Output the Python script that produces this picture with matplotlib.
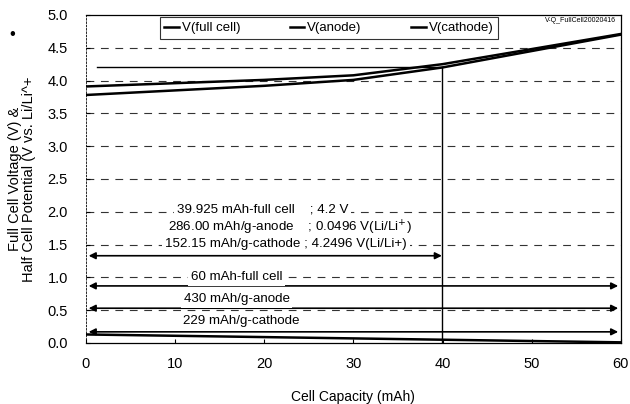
import matplotlib
matplotlib.use("Agg")
import matplotlib.pyplot as plt
import numpy as np

plt.rcParams['font.family'] = ['Liberation Sans', 'DejaVu Sans']

# Cell capacity (mAh) and potentials
capacity = [0, 10, 20, 30, 40, 50, 60]
v_full = [3.78, 3.85, 3.92, 4.01, 4.20, 4.45, 4.70]
v_anode = [0.13, 0.11, 0.09, 0.07, 0.05, 0.03, 0.01]
v_cathode = [3.91, 3.96, 4.01, 4.08, 4.25, 4.48, 4.71]

cutoff_capacity = 39.925
cutoff_voltage = 4.2

cutoff_lines = ["39.925 mAh-full cell    ; 4.2 V",
                "286.00 mAh/g-anode    ; 0.0496 V(Li/Li$^{+}$)",
                "152.15 mAh/g-cathode ; 4.2496 V(Li/Li+)"]
span_labels = ["60 mAh-full cell", "430 mAh/g-anode", "229 mAh/g-cathode"]
span_heights = [0.87, 0.53, 0.17]
span_label_heights = [1.0, 0.67, 0.33]

fig = plt.figure(figsize=(6.3, 4.04), dpi=100)
ax = fig.add_axes([0.1365, 0.151, 0.849, 0.812])

ax.set_xlim(0, 60)
ax.set_ylim(0, 5.0)
ax.set_xticks(np.arange(0, 61, 10))
ax.set_yticks(np.arange(0, 5.01, 0.5))
ax.set_yticklabels([f"{v:.1f}" for v in np.arange(0, 5.01, 0.5)])
ax.tick_params(labelsize=10.5, length=3, direction='in')
ax.tick_params(axis='y', pad=13)
ax.tick_params(axis='x', pad=10)

for y in np.arange(0.5, 4.6, 0.5):
    ax.axhline(y, color='#333333', lw=0.8, ls=(0, (7, 6)), zorder=1)

ax.spines['left'].set_linestyle((0, (2, 2)))
ax.spines['left'].set_linewidth(0.6)
for s in ['top', 'right', 'bottom']:
    ax.spines[s].set_linewidth(0.9)

l1, = ax.plot(capacity, v_full, color='black', lw=1.8, label='V(full cell)', zorder=3)
l2, = ax.plot(capacity, v_anode, color='black', lw=1.8, label='V(anode)', zorder=3)
l3, = ax.plot(capacity, v_cathode, color='black', lw=1.8, label='V(cathode)', zorder=3)

# cut-off markers
ax.plot([1.2, cutoff_capacity], [cutoff_voltage, cutoff_voltage], color='black', lw=1.0, zorder=2)
ax.plot([cutoff_capacity, cutoff_capacity], [0, cutoff_voltage], color='black', lw=1.0, zorder=2)

arrow_kw = dict(arrowstyle='<|-|>', color='black', lw=1.2, mutation_scale=10,
                shrinkA=0, shrinkB=0)
ax.annotate('', xy=(cutoff_capacity, 1.33), xytext=(0.3, 1.33), arrowprops=arrow_kw, zorder=4)
for h in span_heights:
    ax.annotate('', xy=(59.7, h), xytext=(0.3, h), arrowprops=arrow_kw, zorder=4)

bbox = dict(facecolor='white', edgecolor='none', pad=2.0)
for txt, x, y in zip(cutoff_lines, [10.2, 9.2, 8.86], [2.03, 1.76, 1.51]):
    ax.text(x, y, txt, fontsize=9.6, ha='left', va='center', bbox=bbox, zorder=5)
for txt, x, y in zip(span_labels, [16.9, 16.9, 17.4], span_label_heights):
    ax.text(x, y, txt, fontsize=9.6, ha='center', va='center', bbox=bbox, zorder=5)

ax.text(59.4, 4.97, "V-Q_FullCell20020416", fontsize=5, ha='right', va='top')

leg = ax.legend(handles=[l1, l2, l3], loc='lower left',
                bbox_to_anchor=(0.138, 0.927, 0.632, 0.073), mode='expand',
                ncol=3, fontsize=9.5, frameon=True, fancybox=False,
                handlelength=1.1, handletextpad=0.2, borderaxespad=0,
                borderpad=0.35, columnspacing=1.0)
leg.get_frame().set_edgecolor('black')
leg.get_frame().set_linewidth(0.8)

ax.set_xlabel("Cell Capacity (mAh)", fontsize=10, labelpad=14)
ax.set_ylabel("Full Cell Voltage (V) &\nHalf Cell Potential (V vs. Li/Li^+",
              fontsize=10.5, labelpad=8, linespacing=1.0)

fig.text(0.019, 0.915, "\u2022", fontsize=12, ha='center', va='center')

fig.savefig("out.png", dpi=100, facecolor='white')
